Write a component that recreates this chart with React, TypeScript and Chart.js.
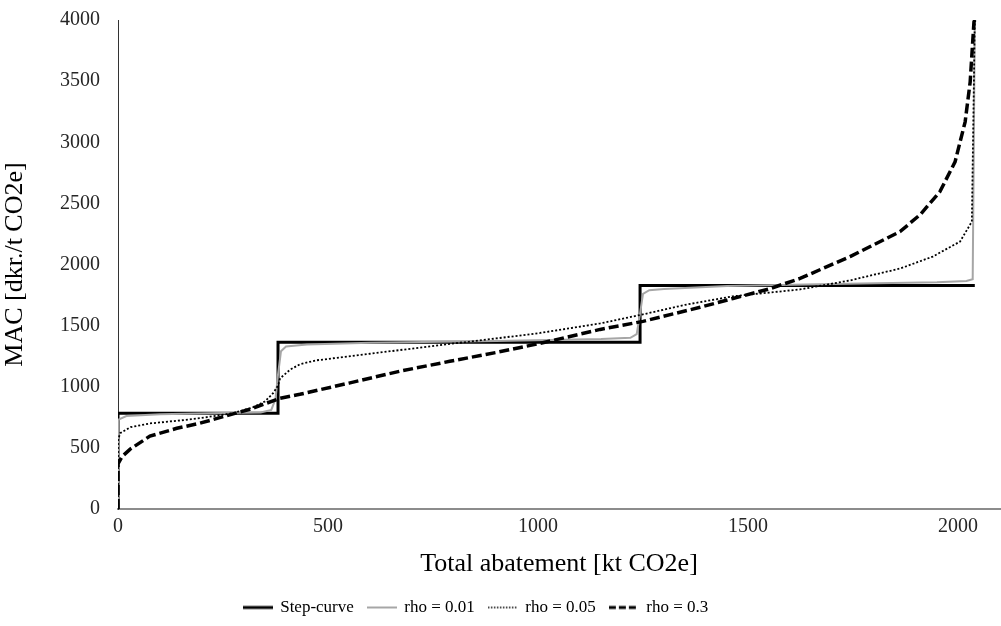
import React, { useEffect, useRef } from "react";
import { Chart, registerables } from "chart.js";

Chart.register(...registerables);

const xTicks = [0, 500, 1000, 1500, 2000];
const yTicks = [0, 500, 1000, 1500, 2000, 2500, 3000, 3500, 4000];

const stepX = [0, 0, 381, 381, 1243, 1243, 2040];
const stepY = [0, 784, 784, 1363, 1363, 1829, 1829];

const rho001X = [0, 0, 20, 100, 250, 340, 365, 375, 381, 388, 400, 450, 600, 900, 1150, 1220, 1235, 1243, 1250, 1265, 1300, 1450, 1700, 1950, 2020, 2035, 2040];
const rho001Y = [0, 730, 760, 775, 785, 790, 810, 900, 1100, 1290, 1330, 1345, 1360, 1375, 1390, 1400, 1430, 1600, 1760, 1790, 1800, 1825, 1840, 1855, 1865, 1880, 4000];

const rho005X = [0, 0, 5, 30, 76, 150, 195, 274, 320, 350, 370, 381, 386, 410, 433, 470, 512, 600, 671, 790, 900, 1005, 1148, 1250, 1350, 1464, 1550, 1624, 1743, 1862, 1940, 2005, 2033, 2040];
const rho005Y = [0, 560, 620, 670, 700, 725, 743, 784, 830, 880, 950, 1010, 1069, 1140, 1184, 1215, 1233, 1270, 1300, 1350, 1395, 1440, 1518, 1592, 1670, 1740, 1770, 1796, 1870, 1967, 2065, 2188, 2351, 4000];

const rho03X = [0, 0, 10, 29, 76, 140, 195, 314, 386, 433, 550, 671, 790, 900, 1005, 1148, 1250, 1386, 1464, 1550, 1624, 1743, 1862, 1910, 1957, 1993, 2017, 2029, 2038, 2040];
const rho03Y = [0, 370, 430, 490, 596, 660, 702, 816, 906, 938, 1030, 1127, 1208, 1280, 1355, 1469, 1535, 1650, 1722, 1800, 1886, 2065, 2269, 2408, 2596, 2840, 3167, 3494, 3984, 4000];

const seriesNames = ["Step-curve", "rho = 0.01", "rho = 0.05", "rho = 0.3"];

const toPoints = (xs: number[], ys: number[]) => xs.map((x, i) => ({ x, y: ys[i] }));

function legendLine(color: string, width: number, dash: number[]) {
  const c = document.createElement("canvas");
  c.width = 30;
  c.height = 8;
  const ctx = c.getContext("2d") as CanvasRenderingContext2D;
  ctx.strokeStyle = color;
  ctx.lineWidth = width;
  ctx.setLineDash(dash);
  ctx.beginPath();
  ctx.moveTo(0, 4);
  ctx.lineTo(30, 4);
  ctx.stroke();
  return c;
}

const shiftLegend = {
  id: "shiftLegend",
  afterLayout(chart: any) {
    const l = chart.legend;
    if (l) {
      l.left -= 24;
      l.right -= 24;
    }
  },
};

export default function App() {
  const ref = useRef<HTMLCanvasElement | null>(null);
  useEffect(() => {
    document.body.style.margin = "0";
    const font = "'Liberation Serif', 'Times New Roman', serif";
    const chart = new Chart(ref.current as HTMLCanvasElement, {
      type: "scatter",
      plugins: [shiftLegend],
      data: {
        datasets: [
          {
            label: seriesNames[0],
            data: toPoints(stepX, stepY),
            showLine: true,
            borderColor: "#000000",
            backgroundColor: "#000000",
            borderWidth: 3,
            pointRadius: 0,
            pointStyle: legendLine("#000000", 3, []),
            order: 4,
          },
          {
            label: seriesNames[1],
            data: toPoints(rho001X, rho001Y),
            showLine: true,
            borderColor: "#A6A6A6",
            backgroundColor: "#A6A6A6",
            borderWidth: 2,
            pointRadius: 0,
            pointStyle: legendLine("#A6A6A6", 2, []),
            order: 3,
          },
          {
            label: seriesNames[2],
            data: toPoints(rho005X, rho005Y),
            showLine: true,
            borderColor: "#000000",
            backgroundColor: "#000000",
            borderWidth: 1.8,
            borderDash: [2, 2],
            pointRadius: 0,
            pointStyle: legendLine("#000000", 1.5, [1.5, 1.5]),
            order: 2,
          },
          {
            label: seriesNames[3],
            data: toPoints(rho03X, rho03Y),
            showLine: true,
            borderColor: "#000000",
            backgroundColor: "#000000",
            borderWidth: 3.5,
            borderDash: [10, 4],
            pointRadius: 0,
            pointStyle: legendLine("#000000", 3, [7, 3]),
            order: 1,
          },
        ],
      },
      options: {
        animation: false,
        responsive: false,
        maintainAspectRatio: false,
        layout: { padding: { top: 0, right: 1, bottom: 0, left: 0 } },
        plugins: {
          tooltip: { enabled: false },
          legend: {
            position: "bottom",
            labels: {
              usePointStyle: true,
              pointStyleWidth: 28,
              boxHeight: 17,
              padding: 14,
              color: "#000000",
              font: { family: font, size: 17 },
              sort: (a: any, b: any) => a.datasetIndex - b.datasetIndex,
            },
          },
        },
        scales: {
          x: {
            type: "linear",
            min: 0,
            max: 2100,
            afterBuildTicks: (scale: any) => {
              scale.ticks = xTicks.map((v) => ({ value: v }));
            },
            afterFit: (scale: any) => {
              scale.height = 76;
            },
            grid: { display: false, drawTicks: false },
            border: { display: true, color: "#8C8C8C", width: 2 },
            ticks: {
              color: "#262626",
              font: { family: font, size: 20 },
              padding: 6,
              callback: (v: any) => String(v),
            },
            title: {
              display: true,
              text: "Total abatement [kt CO2e]",
              color: "#000000",
              font: { family: font, size: 26 },
              padding: { top: 2, bottom: 5 },
            },
          },
          y: {
            type: "linear",
            min: 0,
            max: 4000,
            afterBuildTicks: (scale: any) => {
              scale.ticks = yTicks.map((v) => ({ value: v }));
            },
            afterFit: (scale: any) => {
              scale.width = 118;
              scale.paddingTop = 20;
            },
            grid: { display: false, drawTicks: false },
            border: { display: true, color: "#333333", width: 1 },
            ticks: {
              color: "#262626",
              font: { family: font, size: 20 },
              padding: 18,
              callback: (v: any) => String(v),
            },
            title: {
              display: true,
              text: "MAC [dkr./t CO2e]",
              color: "#000000",
              font: { family: font, size: 26 },
              padding: { top: 0, bottom: 0 },
            },
          },
        },
      },
    } as any);
    return () => chart.destroy();
  }, []);
  return (
    <div style={{ width: 1001, height: 626 }}>
      <canvas ref={ref} width={1001} height={626} style={{ display: "block" }} />
    </div>
  );
}
